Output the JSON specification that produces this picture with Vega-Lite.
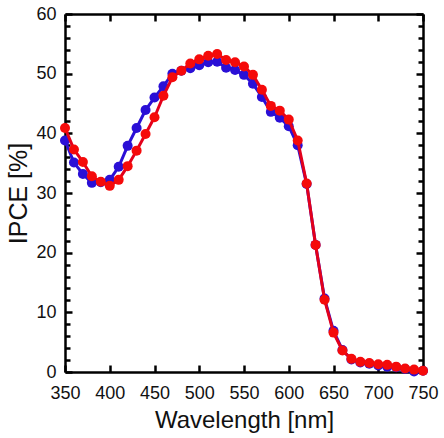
{
  "$schema": "https://vega.github.io/schema/vega-lite/v6.json",
  "description": "IPCE spectra of two samples, 350-750 nm",
  "autosize": "none",
  "padding": {"left": 65, "top": 14, "right": 21, "bottom": 66},
  "width": 358,
  "height": 358,
  "data": {
    "values": [
      {"wl": 350, "blue": 38.8, "red": 40.9},
      {"wl": 360, "blue": 35.1, "red": 37.3},
      {"wl": 370, "blue": 33.2, "red": 35.2},
      {"wl": 380, "blue": 31.7, "red": 32.8},
      {"wl": 390, "blue": 31.8, "red": 31.9},
      {"wl": 400, "blue": 32.2, "red": 31.2},
      {"wl": 410, "blue": 34.4, "red": 32.2},
      {"wl": 420, "blue": 37.9, "red": 34.5},
      {"wl": 430, "blue": 40.9, "red": 37.1},
      {"wl": 440, "blue": 43.9, "red": 39.9},
      {"wl": 450, "blue": 46.0, "red": 42.7},
      {"wl": 460, "blue": 47.9, "red": 46.3},
      {"wl": 470, "blue": 50.0, "red": 49.4},
      {"wl": 480, "blue": 50.5, "red": 50.5},
      {"wl": 490, "blue": 50.9, "red": 51.7},
      {"wl": 500, "blue": 51.4, "red": 52.4},
      {"wl": 510, "blue": 51.9, "red": 53.0},
      {"wl": 520, "blue": 52.0, "red": 53.3},
      {"wl": 530, "blue": 51.0, "red": 52.3},
      {"wl": 540, "blue": 50.6, "red": 51.9},
      {"wl": 550, "blue": 49.8, "red": 51.2},
      {"wl": 560, "blue": 48.3, "red": 49.8},
      {"wl": 570, "blue": 46.1, "red": 47.3},
      {"wl": 580, "blue": 43.6, "red": 44.6},
      {"wl": 590, "blue": 42.6, "red": 43.8},
      {"wl": 600, "blue": 41.2, "red": 42.3},
      {"wl": 610, "blue": 38.0, "red": 38.8},
      {"wl": 620, "blue": 31.5, "red": 31.6},
      {"wl": 630, "blue": 21.3, "red": 21.3},
      {"wl": 640, "blue": 12.3, "red": 12.1},
      {"wl": 650, "blue": 6.9, "red": 6.6},
      {"wl": 660, "blue": 3.7, "red": 3.6},
      {"wl": 670, "blue": 2.1, "red": 2.2},
      {"wl": 680, "blue": 1.6, "red": 1.7},
      {"wl": 690, "blue": 1.4, "red": 1.5},
      {"wl": 700, "blue": 1.1, "red": 1.3},
      {"wl": 710, "blue": 0.9, "red": 1.2},
      {"wl": 720, "blue": 0.8, "red": 0.9},
      {"wl": 730, "blue": 0.5, "red": 0.6},
      {"wl": 740, "blue": 0.1, "red": 0.4},
      {"wl": 750, "blue": 0.2, "red": 0.2}
    ]
  },
  "layer": [
    {
      "mark": {"type": "line", "color": "#2a0fd6", "strokeWidth": 3, "point": {"filled": true, "size": 100, "color": "#2a0fd6", "opacity": 1}},
      "encoding": {
        "x": {
          "field": "wl", "type": "quantitative",
          "scale": {"domain": [350, 750], "nice": false, "zero": false},
          "axis": {
            "orient": "bottom", "title": "Wavelength [nm]",
            "values": [350, 400, 450, 500, 550, 600, 650, 700, 750],
            "tickSize": -7, "labelPadding": 19, "titlePadding": 6, "titleFontSize": 24
          }
        },
        "y": {
          "field": "blue", "type": "quantitative",
          "scale": {"domain": [0, 60], "nice": false},
          "axis": {
            "orient": "left", "title": "IPCE [%]",
            "values": [0, 2, 4, 6, 8, 10, 12, 14, 16, 18, 20, 22, 24, 26, 28, 30, 32, 34, 36, 38, 40, 42, 44, 46, 48, 50, 52, 54, 56, 58, 60],
            "labelExpr": "datum.value % 10 === 0 ? datum.label : ''",
            "tickSize": {"condition": {"test": "datum.value % 10 === 0", "value": -7}, "value": -5},
            "labelPadding": 16, "titlePadding": 4, "titleFontSize": 25
          }
        }
      }
    },
    {
      "mark": {"type": "line", "color": "#e3001b", "strokeWidth": 3, "point": {"filled": true, "size": 100, "color": "#f50a0a", "opacity": 1}},
      "encoding": {
        "x": {
          "field": "wl", "type": "quantitative",
          "axis": {
            "orient": "top", "title": null, "labels": false,
            "values": [350, 400, 450, 500, 550, 600, 650, 700, 750],
            "tickSize": -7
          }
        },
        "y": {
          "field": "red", "type": "quantitative",
          "axis": {
            "orient": "right", "title": null, "labels": false,
            "values": [0, 2, 4, 6, 8, 10, 12, 14, 16, 18, 20, 22, 24, 26, 28, 30, 32, 34, 36, 38, 40, 42, 44, 46, 48, 50, 52, 54, 56, 58, 60],
            "tickSize": {"condition": {"test": "datum.value % 10 === 0", "value": -7}, "value": -5}
          }
        }
      }
    }
  ],
  "resolve": {"axis": {"x": "independent", "y": "independent"}},
  "config": {
    "view": {"stroke": null},
    "font": "Liberation Sans",
    "axis": {
      "grid": false,
      "domainColor": "#000000",
      "domainWidth": 2.5,
      "tickColor": "#000000",
      "tickWidth": 2.5,
      "labelColor": "#111111",
      "labelFont": "Liberation Sans",
      "labelFontSize": 18,
      "titleFont": "Liberation Sans",
      "titleFontSize": 23,
      "titleFontWeight": "normal",
      "titleColor": "#111111",
      "labelFlush": false,
      "labelOverlap": false
    }
  }
}
